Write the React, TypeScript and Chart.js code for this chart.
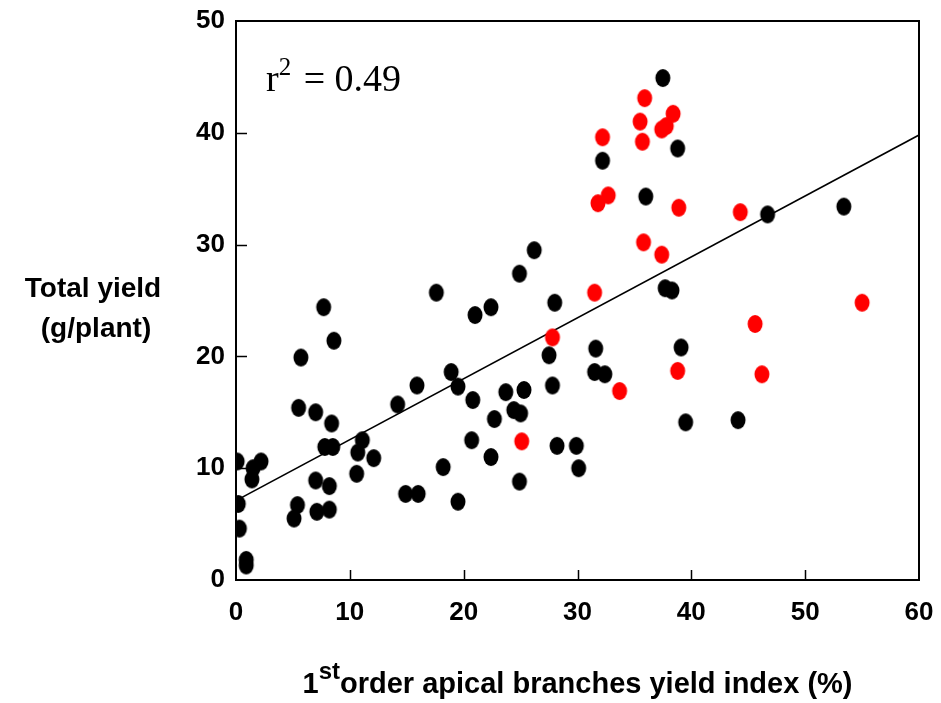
import React, { useEffect, useRef } from "react";
import { Chart, registerables } from "chart.js";

Chart.register(...registerables);

// Black points (x = 1st order apical branches yield index %, y = total yield g/plant)
const blackX = [0.1, 0.2, 0.3, 0.9, 0.9, 1.4, 1.5, 2.2, 5.1, 5.4, 5.5, 5.7, 7.0, 7.0, 7.1, 8.6, 7.7, 7.8, 8.5, 8.4, 8.2, 8.2, 10.6, 10.7, 11.1, 12.1, 14.2, 14.9, 16.0, 15.9, 18.2, 18.9, 19.5, 19.5, 20.8, 20.7, 17.6, 21.0, 22.4, 24.9, 26.2, 28.0, 27.5, 27.8, 31.6, 31.5, 32.4, 23.7, 25.3, 24.4, 25.0, 22.7, 22.4, 28.2, 29.9, 30.1, 24.9, 37.5, 38.8, 32.2, 36.0, 37.7, 38.3, 53.4, 46.7, 39.1, 39.5, 44.1];
const blackY = [10.6, 6.8, 4.6, 1.8, 1.3, 9.0, 10.0, 10.6, 5.5, 6.7, 15.4, 19.9, 15.0, 8.9, 6.1, 21.4, 24.4, 11.9, 11.9, 14.0, 8.4, 6.3, 9.5, 11.4, 12.5, 10.9, 15.7, 7.7, 7.7, 17.4, 10.1, 18.6, 17.3, 7.0, 16.1, 12.5, 25.7, 23.7, 24.4, 27.4, 29.5, 24.8, 20.1, 17.4, 20.7, 18.6, 18.4, 16.8, 17.0, 15.2, 14.9, 14.4, 11.0, 12.0, 12.0, 10.0, 8.8, 44.9, 38.6, 37.5, 34.3, 26.1, 25.9, 33.4, 32.7, 20.8, 14.1, 14.3];

// Red points
const redX = [25.1, 27.8, 31.5, 33.7, 35.8, 35.9, 35.5, 38.4, 37.4, 37.8, 35.7, 32.2, 32.7, 31.8, 38.9, 44.3, 37.4, 55.0, 45.6, 38.8, 46.2];
const redY = [12.4, 21.7, 25.7, 16.9, 30.2, 43.1, 41.0, 41.7, 40.3, 40.6, 39.2, 39.6, 34.4, 33.7, 33.3, 32.9, 29.1, 24.8, 22.9, 18.7, 18.4];

// Regression line end points
const fitX = [0, 60];
const fitY = [7.1, 39.8];

const xTickValues = [0, 10, 20, 30, 40, 50, 60];
const yTickValues = [0, 10, 20, 30, 40, 50];

const yTitleLines = ["Total yield", "(g/plant)"];
const xTitleMain = "order apical branches yield index (%)";
const xTitleLead = "1";
const xTitleSup = "st";
const rLabel = "r";
const rSup = "2";
const rValue = " = 0.49";

function makeEllipse(color: string): HTMLCanvasElement {
  const c = document.createElement("canvas");
  c.width = 18;
  c.height = 20;
  const g = c.getContext("2d")!;
  g.fillStyle = color;
  g.beginPath();
  g.ellipse(9, 10, 7.5, 9, 0, 0, Math.PI * 2);
  g.fill();
  return c;
}

const SANS = '"Liberation Sans", Arial, sans-serif';
const SERIF = '"Liberation Serif", "Times New Roman", serif';

const decorPlugin = {
  id: "decor",
  beforeDatasetsDraw(chart: any) {
    const { ctx, chartArea, scales } = chart;
    const { left, right, top, bottom } = chartArea;
    ctx.save();
    ctx.strokeStyle = "#000";
    ctx.lineWidth = 2;
    ctx.strokeRect(left, top, right - left, bottom - top);
    ctx.lineWidth = 1.5;
    ctx.beginPath();
    for (const v of xTickValues) {
      if (v === 0 || v === 60) continue;
      const px = Math.round(scales.x.getPixelForValue(v)) + 0.5;
      ctx.moveTo(px, bottom);
      ctx.lineTo(px, bottom - 10);
    }
    for (const v of yTickValues) {
      if (v === 0 || v === 50) continue;
      const py = Math.round(scales.y.getPixelForValue(v)) + 0.5;
      ctx.moveTo(left, py);
      ctx.lineTo(left + 11, py);
    }
    ctx.stroke();
    ctx.restore();
  },
  afterDraw(chart: any) {
    const { ctx, chartArea } = chart;
    ctx.save();
    ctx.fillStyle = "#000";
    // y title (horizontal, two lines)
    ctx.font = `bold 28px ${SANS}`;
    ctx.textAlign = "center";
    ctx.textBaseline = "alphabetic";
    ctx.fillText(yTitleLines[0], 93, 297);
    ctx.fillText(yTitleLines[1], 96, 337);

    // x title with superscript
    const big = `bold 29px ${SANS}`;
    const small = `bold 24px ${SANS}`;
    ctx.font = big;
    const wLead = ctx.measureText(xTitleLead).width;
    const wMain = ctx.measureText(xTitleMain).width;
    ctx.font = small;
    const wSup = ctx.measureText(xTitleSup).width;
    const total = wLead + wSup + wMain;
    const cx = (chartArea.left + chartArea.right) / 2;
    let x0 = cx - total / 2;
    const base = 693;
    ctx.textAlign = "left";
    ctx.font = big;
    ctx.fillText(xTitleLead, x0, base);
    x0 += wLead;
    ctx.font = small;
    ctx.fillText(xTitleSup, x0, base - 14);
    x0 += wSup;
    ctx.font = big;
    ctx.fillText(xTitleMain, x0, base);

    // r^2 annotation
    ctx.font = `38px ${SERIF}`;
    let rx = 266;
    const rb = 91;
    ctx.fillText(rLabel, rx, rb);
    rx += ctx.measureText(rLabel).width;
    ctx.font = `25px ${SERIF}`;
    ctx.fillText(rSup, rx, rb - 16);
    rx += ctx.measureText(rSup).width + 3;
    ctx.font = `38px ${SERIF}`;
    ctx.fillText(rValue, rx, rb);
    ctx.restore();
  },
};

export default function App() {
  const ref = useRef<HTMLCanvasElement | null>(null);

  useEffect(() => {
    if (!ref.current) return;
    const blackDot = makeEllipse("#000000");
    const redDot = makeEllipse("#ff0000");
    const chart = new Chart(ref.current, {
      type: "scatter",
      data: {
        datasets: [
          {
            label: "red",
            data: redX.map((x, i) => ({ x, y: redY[i] })),
            pointStyle: redDot as any,
            pointRadius: 7,
            order: 1,
          },
          {
            label: "black",
            data: blackX.map((x, i) => ({ x, y: blackY[i] })),
            pointStyle: blackDot as any,
            pointRadius: 7,
            order: 2,
          },
          {
            label: "fit",
            data: fitX.map((x, i) => ({ x, y: fitY[i] })),
            showLine: true,
            borderColor: "#000",
            borderWidth: 1.5,
            pointRadius: 0,
            order: 3,
          },
        ],
      },
      options: {
        animation: false,
        responsive: false,
        maintainAspectRatio: false,
        events: [],
        layout: { padding: { left: 0, top: 21, right: 22, bottom: 0 } },
        plugins: {
          legend: { display: false },
          tooltip: { enabled: false },
          title: { display: false },
        },
        scales: {
          x: {
            type: "linear",
            min: 0,
            max: 60,
            grid: { display: false, drawTicks: false },
            border: { display: false },
            afterBuildTicks: (s: any) => {
              s.ticks = xTickValues.map((v) => ({ value: v }));
            },
            afterFit: (s: any) => {
              s.height = 123;
              s.paddingLeft = 0;
              s.paddingRight = 0;
              s.paddingTop = 0;
              s.paddingBottom = 0;
            },
            ticks: {
              padding: 17,
              color: "#000",
              font: { family: SANS, size: 26, weight: "bold" },
              maxRotation: 0,
            },
          },
          y: {
            type: "linear",
            min: 0,
            max: 50,
            grid: { display: false, drawTicks: false },
            border: { display: false },
            afterBuildTicks: (s: any) => {
              s.ticks = yTickValues.map((v) => ({ value: v }));
            },
            afterFit: (s: any) => {
              s.width = 236;
              s.paddingLeft = 0;
              s.paddingRight = 0;
              s.paddingTop = 0;
              s.paddingBottom = 0;
            },
            ticks: {
              padding: 11,
              color: "#000",
              font: { family: SANS, size: 26, weight: "bold" },
            },
          },
        },
      },
      plugins: [decorPlugin],
    });
    return () => chart.destroy();
  }, []);

  return (
    <div style={{ position: "fixed", left: 0, top: 0, width: 941, height: 703, background: "#fff" }}>
      <canvas ref={ref} width={941} height={703} style={{ width: 941, height: 703, display: "block" }} />
    </div>
  );
}
